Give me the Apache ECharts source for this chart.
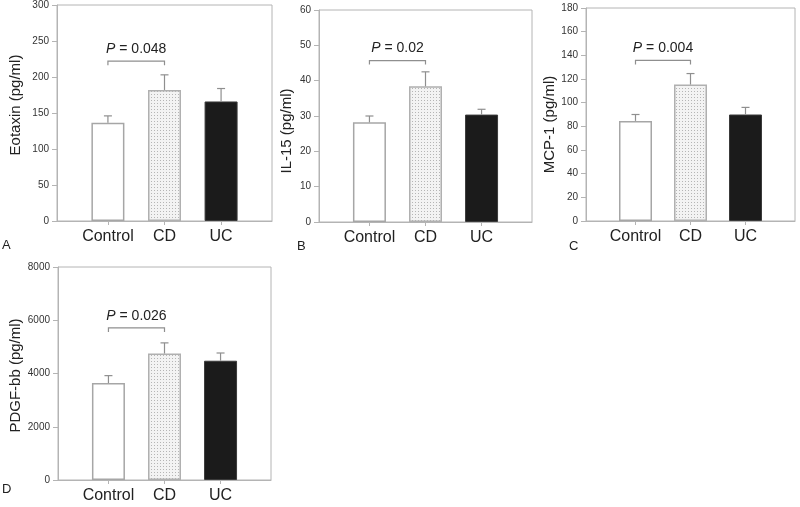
<!DOCTYPE html>
<html><head><meta charset="utf-8">
<script src="https://cdn.jsdelivr.net/npm/echarts@6/dist/echarts.min.js"></script>
<style>html,body{margin:0;padding:0;background:#fff}#c{width:800px;height:507px}</style>
</head><body><div id="c"></div>
<script>
// ---- data ----
const categories = ['Control', 'CD', 'UC'];
const catPos = [1, 2, 3];
const eotaxinMean = [136.5, 182, 166];
const eotaxinErr  = [9.5, 21, 18];
const il15Mean = [28.2, 38.4, 30.4];
const il15Err  = [1.8, 4.1, 1.5];
const mcp1Mean = [84.6, 115.3, 90.0];
const mcp1Err  = [5.4, 9.3, 6.0];
const pdgfMean = [3640, 4750, 4480];
const pdgfErr  = [280, 400, 290];
const yNames = ['Eotaxin (pg/ml)', 'IL-15 (pg/ml)', 'MCP-1 (pg/ml)', 'PDGF-bb (pg/ml)'];
const yMax = [300, 60, 180, 8000];
const yStep = [50, 10, 20, 2000];
const pValues = ['0.048', '0.02', '0.004', '0.026'];
const bracketY = [222, 45.7, 135.7, 5710];
const panelLetters = ['A', 'B', 'C', 'D'];

// ---- layout / style ----
const FONT = '"Liberation Sans", Arial, Helvetica, sans-serif';
const grids = [
  {left: 57, top: 5, width: 215, height: 216},
  {left: 319, top: 10, width: 213, height: 212},
  {left: 586, top: 8, width: 209, height: 213},
  {left: 58, top: 267, width: 213, height: 213}
];
const nameGaps = [34, 25, 27, 35];
const namePads = [[0, 0, 0, 16], [0, 30, 0, 0], [0, 20, 0, 0], [0, 4, 0, 0]];
const letterPos = [[2, 239], [297, 240], [569, 240], [2, 483]];
const AXIS = '#b4b4b4';

function dotPattern() {
  const c = document.createElement('canvas');
  c.width = 3; c.height = 3;
  const g = c.getContext('2d');
  g.fillStyle = '#f3f3f3'; g.fillRect(0, 0, 3, 3);
  g.fillStyle = '#b5b5b5'; g.fillRect(1, 1, 1, 1);
  return c;
}
const barStyles = [
  {color: '#ffffff', borderColor: '#a6a6a6', borderWidth: 1.5},
  {color: {image: dotPattern(), repeat: 'repeat'}, borderColor: '#b0b0b0', borderWidth: 1.5},
  {color: '#1b1b1b', borderColor: '#3a3a3a', borderWidth: 1}
];

const means = [eotaxinMean, il15Mean, mcp1Mean, pdgfMean];
const errs = [eotaxinErr, il15Err, mcp1Err, pdgfErr];

const option = {
  animation: false,
  backgroundColor: '#fff',
  title: panelLetters.map((t, i) => ({
    text: t, left: letterPos[i][0], top: letterPos[i][1], padding: 0,
    textStyle: {fontFamily: FONT, fontSize: 13, fontWeight: 'normal', color: '#222'}
  })),
  grid: grids.map(g => Object.assign({show: true, borderColor: AXIS, borderWidth: 1, backgroundColor: 'transparent'}, g)),
  xAxis: grids.map((g, i) => ({
    type: 'value', gridIndex: i, min: 0.1, max: 3.9,
    splitLine: {show: false},
    axisLine: {show: true, lineStyle: {color: AXIS, width: 1}},
    axisTick: {show: true, customValues: catPos, length: 4, lineStyle: {color: AXIS}},
    axisLabel: {show: true, customValues: catPos, margin: 8,
      formatter: v => categories[Math.round(v) - 1] || '',
      fontFamily: FONT, fontSize: 16, color: '#222'}
  })),
  yAxis: grids.map((g, i) => ({
    type: 'value', gridIndex: i, min: 0, max: yMax[i], interval: yStep[i],
    name: yNames[i], nameLocation: 'middle', nameGap: nameGaps[i],
    nameTextStyle: {fontFamily: FONT, fontSize: 15, color: '#222', padding: namePads[i]},
    splitLine: {show: false},
    axisLine: {show: true, lineStyle: {color: AXIS, width: 1}},
    axisTick: {show: true, length: 5, lineStyle: {color: AXIS}},
    axisLabel: {margin: 8, fontFamily: FONT, fontSize: 10, color: '#333', formatter: v => String(v)}
  })),
  series: []
};

means.forEach((m, i) => {
  option.series.push({
    type: 'bar', xAxisIndex: i, yAxisIndex: i, barWidth: 33, z: 2,
    data: m.map((v, k) => ({value: [catPos[k], v], itemStyle: barStyles[k]}))
  });
  option.series.push({
    type: 'custom', xAxisIndex: i, yAxisIndex: i, z: 3,
    data: m.map((v, k) => [catPos[k], v, v + errs[i][k]]),
    renderItem: (params, api) => {
      const b = api.coord([api.value(0), api.value(1)]);
      const t = api.coord([api.value(0), api.value(2)]);
      const st = {stroke: '#8f8f8f', lineWidth: 1.2};
      return {type: 'group', children: [
        {type: 'line', shape: {x1: b[0], y1: b[1], x2: t[0], y2: t[1]}, style: st},
        {type: 'line', shape: {x1: t[0] - 4, y1: t[1], x2: t[0] + 4, y2: t[1]}, style: st}
      ]};
    }
  });
  option.series.push({
    type: 'custom', xAxisIndex: i, yAxisIndex: i, z: 4,
    data: [[catPos[0], catPos[1], bracketY[i]]],
    renderItem: (params, api) => {
      const a = api.coord([api.value(0), api.value(2)]);
      const b = api.coord([api.value(1), api.value(2)]);
      return {type: 'group', children: [
        {type: 'polyline', shape: {points: [[a[0], a[1] + 4], [a[0], a[1]], [b[0], b[1]], [b[0], b[1] + 4]]},
          style: {stroke: '#8f8f8f', lineWidth: 1.2, fill: null}},
        {type: 'text', x: (a[0] + b[0]) / 2, y: a[1] - 5,
          style: {text: '{i|P} = ' + pValues[i], textAlign: 'center', textVerticalAlign: 'bottom',
            fontFamily: FONT, fontSize: 14, fill: '#222',
            rich: {i: {fontStyle: 'italic', fontFamily: FONT, fontSize: 14, fill: '#222'}}}}
      ]};
    }
  });
});

const chart = echarts.init(document.getElementById('c'), null, {renderer: 'canvas'});
chart.setOption(option);
</script>
</body></html>
